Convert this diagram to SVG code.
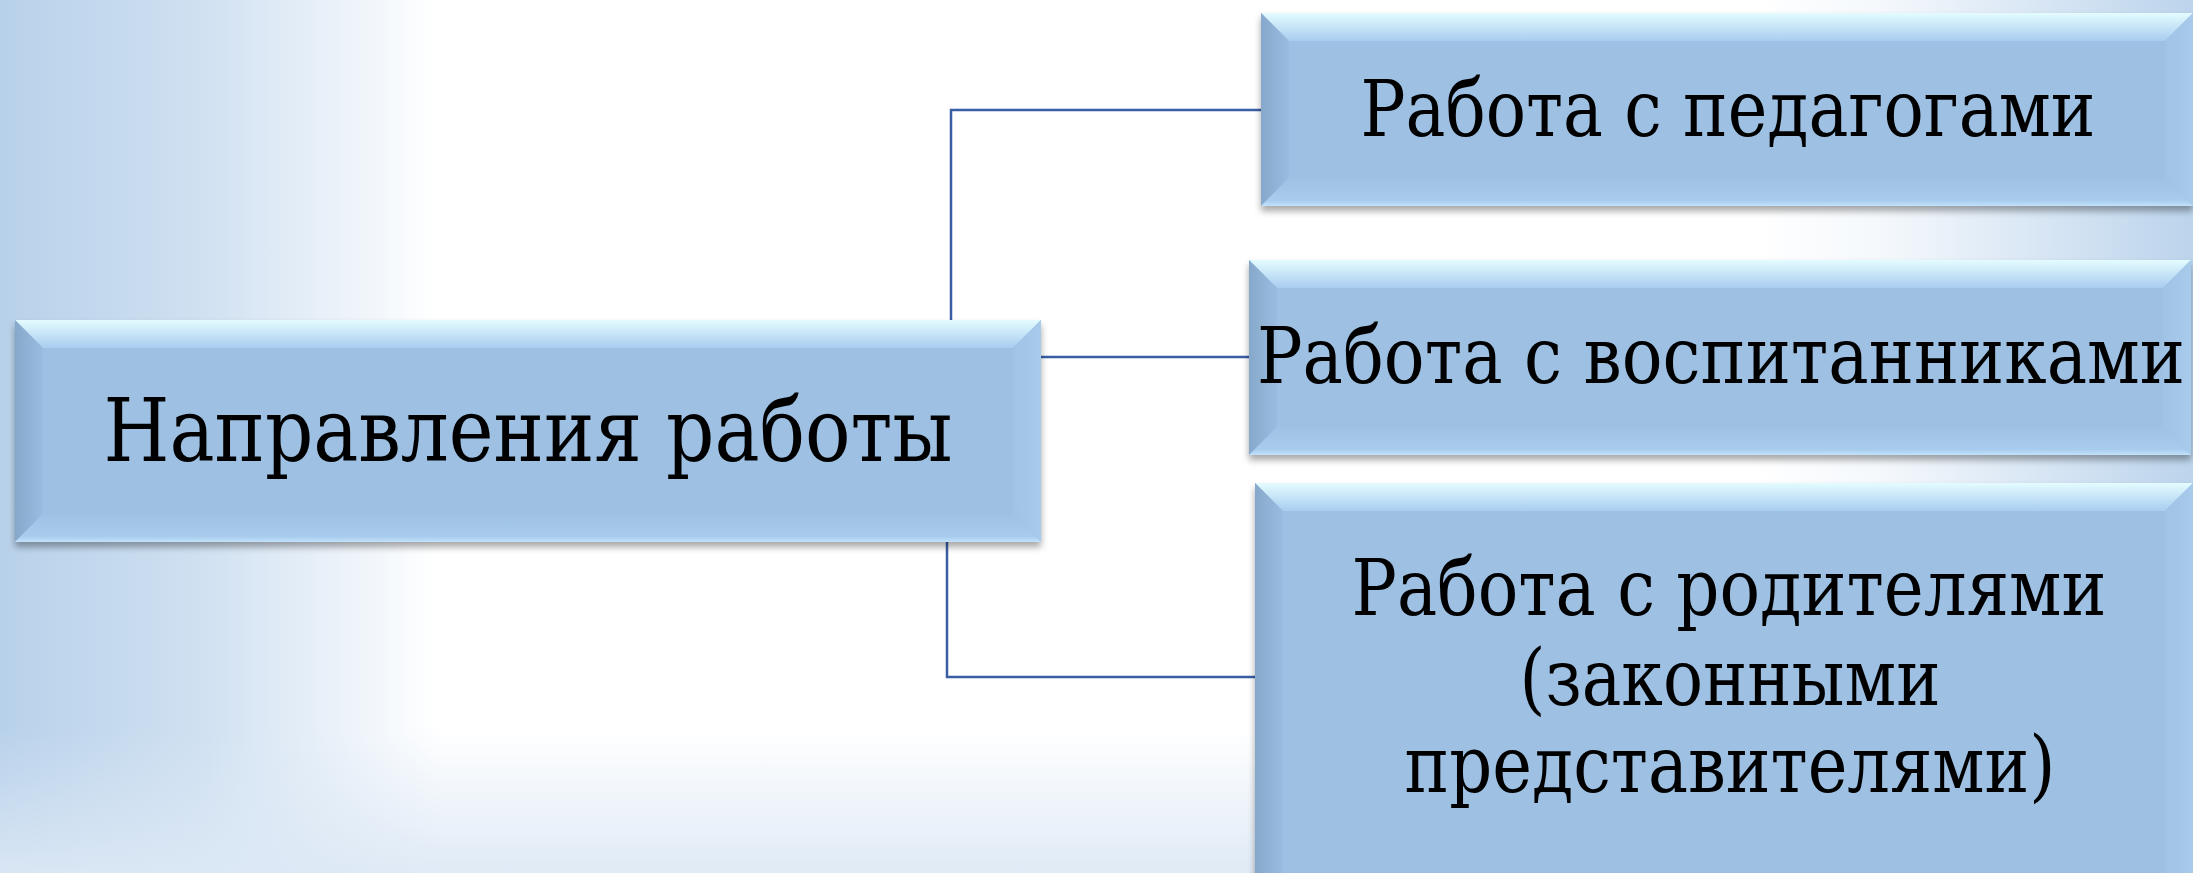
<svg xmlns="http://www.w3.org/2000/svg" width="2193" height="873" viewBox="0 0 2193 873">
<defs>
<linearGradient id="bgL" x1="0" y1="0" x2="1" y2="0">
<stop offset="0" stop-color="#b8d1ea"/>
<stop offset="0.09" stop-color="#cfe0f1"/>
<stop offset="0.2" stop-color="#ffffff"/>
<stop offset="0.8" stop-color="#ffffff"/>
<stop offset="0.86" stop-color="#f4f8fc"/>
<stop offset="1" stop-color="#bcd4ec"/>
</linearGradient>
<linearGradient id="bgB" x1="0" y1="0" x2="0" y2="1">
<stop offset="0" stop-color="#dce8f5" stop-opacity="0"/>
<stop offset="1" stop-color="#dce8f5" stop-opacity="0.9"/>
</linearGradient>
<linearGradient id="gTop" x1="0" y1="0" x2="0" y2="1">
<stop offset="0" stop-color="#e4fcff"/>
<stop offset="1" stop-color="#a9cdf0"/>
</linearGradient>
<linearGradient id="gLeft" x1="0" y1="0" x2="1" y2="0">
<stop offset="0" stop-color="#86a8ca"/>
<stop offset="1" stop-color="#9abce0"/>
</linearGradient>
<linearGradient id="gRight" x1="0" y1="0" x2="1" y2="0">
<stop offset="0" stop-color="#a0c3e6"/>
<stop offset="1" stop-color="#a8cbec"/>
</linearGradient>
<linearGradient id="gBot" x1="0" y1="0" x2="0" y2="1">
<stop offset="0" stop-color="#9ec1e4"/>
<stop offset="0.8" stop-color="#a8ccee"/>
<stop offset="1" stop-color="#c2e2fb"/>
</linearGradient>
<filter id="sh" x="-5%" y="-10%" width="110%" height="130%">
<feDropShadow dx="0" dy="5" stdDeviation="3.5" flood-color="#000" flood-opacity="0.35"/>
</filter>
</defs>
<style>
.face{fill:#9dc0e3}
.bt{fill:url(#gTop)}
.bl{fill:url(#gLeft)}
.br{fill:url(#gRight)}
.bb{fill:url(#gBot)}
text{font-family:"DejaVu Serif Condensed","DejaVu Serif",serif;fill:#000;text-anchor:middle}
.lbl{font-size:88px}
.lbl2{font-size:78px}
.conn{fill:none;stroke:#3a5ea3;stroke-width:2.5}
</style>
<rect x="0" y="0" width="2193" height="873" fill="url(#bgL)"/>
<rect x="0" y="730" width="2193" height="143" fill="url(#bgB)"/>

<g id="connectors">
<path class="conn" d="M1261 110 H951 V320"/>
<path class="conn" d="M1041 357 H1249"/>
<path class="conn" d="M947 542 V677 H1255"/>
</g>

<g id="node-main" filter="url(#sh)">
<rect class="face" x="15" y="320" width="1026" height="222"/>
<polygon class="bt" points="15,320 1041,320 1013,348 43,348"/>
<polygon class="bl" points="15,320 43,348 43,514 15,542"/>
<polygon class="br" points="1041,320 1041,542 1013,514 1013,348"/>
<polygon class="bb" points="15,542 43,514 1013,514 1041,542"/>
<text class="lbl" x="528" y="461" textLength="849" lengthAdjust="spacingAndGlyphs">Направления работы</text>
</g>

<g id="node-teachers" filter="url(#sh)">
<rect class="face" x="1261" y="13" width="932" height="193"/>
<polygon class="bt" points="1261,13 2193,13 2165,41 1289,41"/>
<polygon class="bl" points="1261,13 1289,41 1289,178 1261,206"/>
<polygon class="br" points="2193,13 2193,206 2165,178 2165,41"/>
<polygon class="bb" points="1261,206 1289,178 2165,178 2193,206"/>
<text class="lbl2" x="1728" y="136" textLength="735" lengthAdjust="spacingAndGlyphs">Работа с педагогами</text>
</g>

<g id="node-pupils" filter="url(#sh)">
<rect class="face" x="1249" y="260" width="942" height="195"/>
<polygon class="bt" points="1249,260 2191,260 2163,288 1277,288"/>
<polygon class="bl" points="1249,260 1277,288 1277,427 1249,455"/>
<polygon class="br" points="2191,260 2191,455 2163,427 2163,288"/>
<polygon class="bb" points="1249,455 1277,427 2163,427 2191,455"/>
<text class="lbl2" x="1721" y="383" textLength="928" lengthAdjust="spacingAndGlyphs">Работа с воспитанниками</text>
</g>

<g id="node-parents" filter="url(#sh)">
<rect class="face" x="1255" y="483" width="938" height="420"/>
<polygon class="bt" points="1255,483 2193,483 2165,511 1283,511"/>
<polygon class="bl" points="1255,483 1283,511 1283,875 1255,903"/>
<polygon class="br" points="2193,483 2193,903 2165,875 2165,511"/>
<text class="lbl2" x="1729" y="615" textLength="755" lengthAdjust="spacingAndGlyphs">Работа с родителями</text>
<text class="lbl2" x="1730" y="705" textLength="421" lengthAdjust="spacingAndGlyphs">(законными</text>
<text class="lbl2" x="1730" y="792" textLength="651" lengthAdjust="spacingAndGlyphs">представителями)</text>
</g>
</svg>
